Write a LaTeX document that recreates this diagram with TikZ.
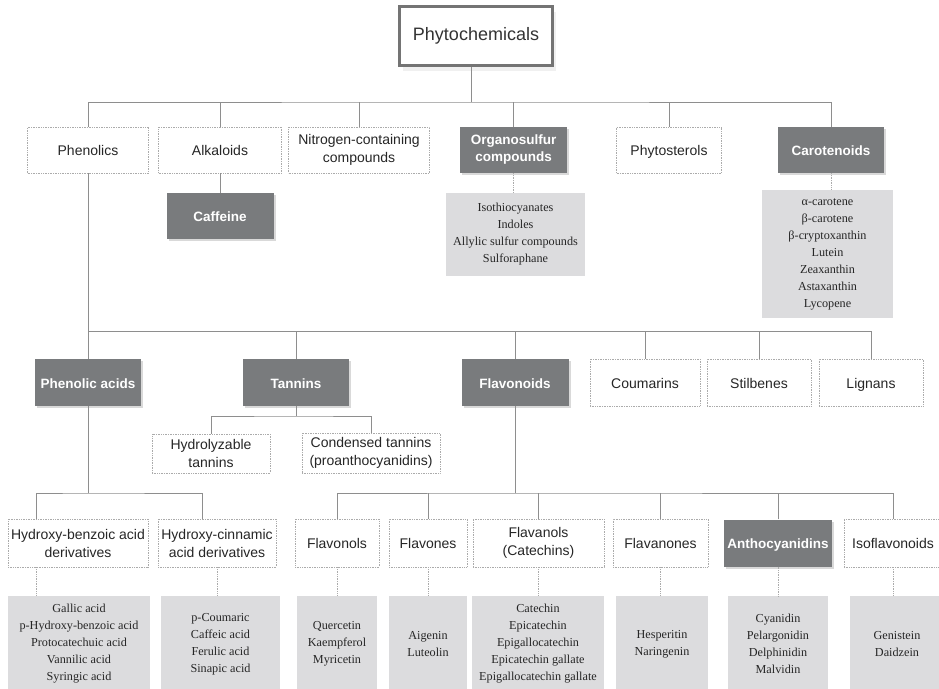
\documentclass[tikz,border=0pt]{standalone}
\usepackage{fontspec}
\setmainfont{Liberation Sans}
\newfontfamily\listfont{Liberation Serif}
\usetikzlibrary{shadows}
\definecolor{boxdark}{HTML}{797B7D}
\definecolor{boxlight}{HTML}{DCDCDE}
\definecolor{linkgray}{HTML}{8E8E8E}
\definecolor{dotgray}{HTML}{ABABAB}
\definecolor{titlegray}{HTML}{747474}
\begin{document}
\begin{tikzpicture}[x=1pt,y=-1pt,
  wh/.style 2 args={minimum width=#1pt,minimum height=#2pt},
  one/.style={text height=12pt,text depth=1pt},
  title/.style={draw=titlegray,line width=3pt,fill=white,wh={153}{59},
    font=\fontsize{18}{22}\selectfont,text=black!80,
    drop shadow={opacity=.12,shadow xshift=3pt,shadow yshift=-5pt}},
  cat/.style={draw=dotgray,densely dotted,line width=.7pt,fill=white,align=center,
    inner sep=2pt,font=\fontsize{14}{18}\selectfont,text=black!85},
  dark/.style={fill=boxdark,text=white,align=center,inner sep=2pt,
    font=\bfseries\fontsize{13.5}{17}\selectfont,
    drop shadow={opacity=.3,shadow xshift=2pt,shadow yshift=-2pt}},
  list/.style={fill=boxlight,align=center,inner sep=2pt,
    font=\listfont\fontsize{12.2}{17}\selectfont,text=black!85},
  link/.style={draw=linkgray,line width=.8pt},
  dotlink/.style={draw=dotgray,densely dotted,line width=.7pt}]
\useasboundingbox (0,0) rectangle (939,688);
\clip (0,0) rectangle (939,688);
% top row
\node[title] (phyto) at (476,36) {Phytochemicals};
\node[cat,one,wh={121}{46}] (phen) at (88,150) {Phenolics};
\node[cat,one,wh={123}{46}] (alk) at (220,150) {Alkaloids};
\node[cat,wh={141}{46}] (nitro) at (359,150) {Nitrogen-containing\\compounds};
\node[dark,wh={107}{46}] (orgs) at (513.5,150) {Organosulfur\\compounds};
\node[cat,one,wh={105}{46}] (sterol) at (669,150) {Phytosterols};
\node[dark,one,wh={106}{46}] (carot) at (831,150) {Carotenoids};
\node[dark,one,wh={107}{46}] (caff) at (220,216) {Caffeine};
\node[list,wh={139}{83}] (orgslist) at (515.5,234.5)
  {Isothiocyanates\\Indoles\\Allylic sulfur compounds\\Sulforaphane};
\node[list,wh={131}{128}] (carotlist) at (827.5,254)
  {α-carotene\\β-carotene\\β-cryptoxanthin\\Lutein\\Zeaxanthin\\Astaxanthin\\Lycopene};
\coordinate (bus1) at (471,102);
\draw[link] (phyto.south -| bus1) -- (bus1);
\draw[link] (phen.north) |- (bus1) -| (carot.north);
\foreach \n in {alk,nitro,orgs,sterol}
  \draw[link] (\n.north) -- (\n.north |- bus1);
\draw[link] (alk.south) -- (caff.north);
\draw[dotlink] (orgs.south) -- (orgs.south |- orgslist.north);
\draw[dotlink] (carot.south) -- (carot.south |- carotlist.north);
% phenolics
\node[dark,one,wh={106}{47}] (phacid) at (88,382.5) {Phenolic acids};
\node[dark,one,wh={106}{47}] (tann) at (296,382.5) {Tannins};
\node[dark,one,wh={107}{47}] (flavo) at (515,382.5) {Flavonoids};
\node[cat,one,wh={110}{47}] (coum) at (645,382.5) {Coumarins};
\node[cat,one,wh={104}{47}] (stilb) at (759,382.5) {Stilbenes};
\node[cat,one,wh={104}{47}] (lign) at (871,382.5) {Lignans};
\coordinate (bus2) at (88,331);
\draw[link] (phen.south) -- (phacid.north);
\draw[link] (bus2) -| (lign.north);
\foreach \n in {tann,flavo,coum,stilb}
  \draw[link] (\n.north) -- (\n.north |- bus2);
% tannins
\node[cat,wh={118}{39}] (hydro) at (211,453.5) {Hydrolyzable\\tannins};
\node[cat,wh={138}{40}] (cond) at (371,453) {Condensed tannins\\(proanthocyanidins)};
\coordinate (bus3) at (296,416);
\draw[link] (tann.south) -- (bus3);
\draw[link] (hydro.north) |- (bus3) -| (cond.north);
% phenolic acids and flavonoids
\node[cat,wh={140}{48}] (hbd) at (78,543) {Hydroxy-benzoic acid\\derivatives};
\node[cat,wh={118}{48}] (hcd) at (217,543) {Hydroxy-cinnamic\\acid derivatives};
\node[cat,one,wh={84}{48}] (flvl) at (337,543) {Flavonols};
\node[cat,one,wh={78}{48}] (flvn) at (428,543) {Flavones};
\node[cat,wh={131}{48}] (flvnl) at (538.5,543) {Flavanols\\(Catechins)};
\node[cat,one,wh={95}{48}] (flvnn) at (660.5,543) {Flavanones};
\node[dark,one,wh={108}{47}] (antho) at (778,543) {Anthocyanidins};
\node[cat,one,wh={98}{48}] (iso) at (893,543) {Isoflavonoids};
\coordinate (bus4) at (88,493);
\draw[link] (phacid.south) -- (bus4);
\draw[link] ([xshift=-42pt]hbd.north) |- (bus4) -| ([xshift=-15pt]hcd.north);
\draw[link] (flavo.south) -- (flavo.south |- bus4);
\draw[link] (flvl.north) |- (bus4 -| flavo.south) -| (iso.north);
\foreach \n in {flvn,flvnl,flvnn,antho}
  \draw[link] (\n.north) -- (\n.north |- bus4);
% compound lists
\node[list,wh={142}{96}] (l1) at (79,644)
  {Gallic acid\\p-Hydroxy-benzoic acid\\Protocatechuic acid\\Vannilic acid\\Syringic acid};
\node[list,wh={119}{96}] (l2) at (220.5,644) {p-Coumaric\\Caffeic acid\\Ferulic acid\\Sinapic acid};
\node[list,wh={80}{96}] (l3) at (337,644) {Quercetin\\Kaempferol\\Myricetin};
\node[list,wh={78}{96}] (l4) at (428,644) {Aigenin\\Luteolin};
\node[list,wh={132}{96}] (l5) at (538,644)
  {Catechin\\Epicatechin\\Epigallocatechin\\Epicatechin gallate\\Epigallocatechin gallate};
\node[list,wh={92}{96}] (l6) at (662,644) {Hesperitin\\Naringenin};
\node[list,wh={100}{96}] (l7) at (778,644) {Cyanidin\\Pelargonidin\\Delphinidin\\Malvidin};
\node[list,wh={94}{96}] (l8) at (897,644) {Genistein\\Daidzein};
\draw[dotlink] ([xshift=-42pt]hbd.south) -- ([xshift=-42pt]hbd.south |- l1.north);
\foreach \a/\b in {hcd/l2,flvl/l3,flvn/l4,flvnl/l5,flvnn/l6,antho/l7,iso/l8}
  \draw[dotlink] (\a.south) -- (\a.south |- \b.north);
\end{tikzpicture}
\end{document}
